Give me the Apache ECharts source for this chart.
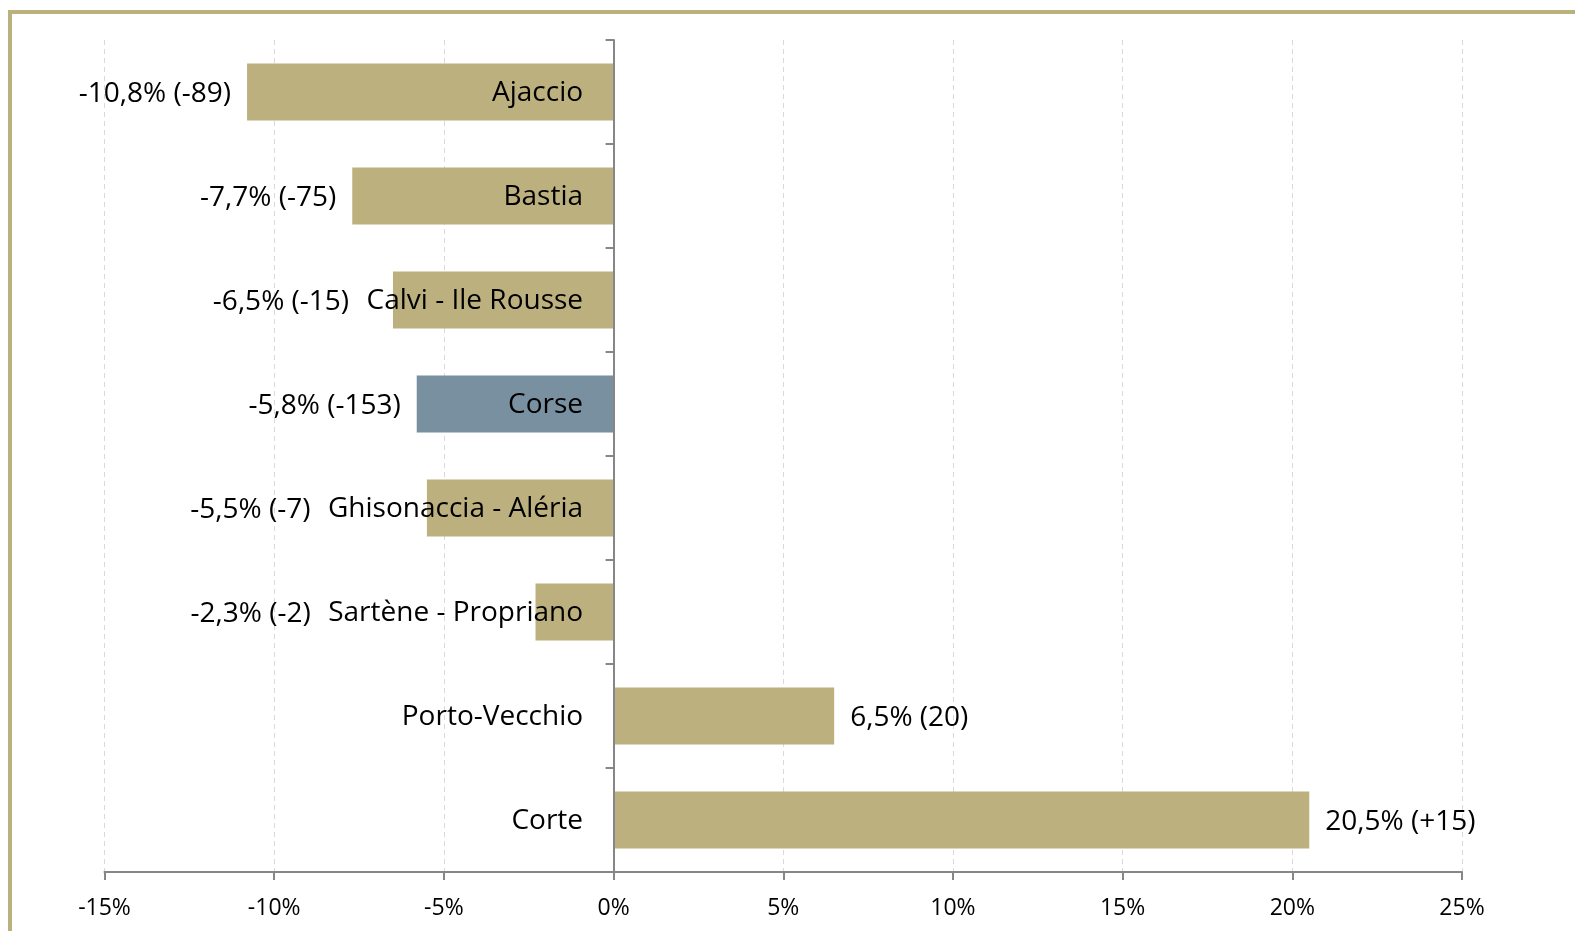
<!DOCTYPE html>
<html>
<head>
<meta charset="utf-8">
<script src="https://cdn.jsdelivr.net/npm/echarts@6/dist/echarts.min.js"></script>
<style>
  html, body { margin: 0; padding: 0; background: #fff; }
  #chart { width: 1575px; height: 931px; }
</style>
</head>
<body>
<div id="chart"></div>
<script>
// zones, top to bottom
const zones = ['Ajaccio', 'Bastia', 'Calvi - Ile Rousse', 'Corse', 'Ghisonaccia - Aléria', 'Sartène - Propriano', 'Porto-Vecchio', 'Corte']
// evolution in %
const evolution = [-10.8, -7.7, -6.5, -5.8, -5.5, -2.3, 6.5, 20.5]
// evolution in number, as written on the chart
const counts = ['-89', '-75', '-15', '-153', '-7', '-2', '20', '+15']
const xTicks = [-15, -10, -5, 0, 5, 10, 15, 20, 25]

const gold = '#BDB07F'
const blue = '#7990A0'
const font = 'Open Sans'
const labelSize = 28
const nameGap = 30   // name text to the 0% line
const valueGap = 16  // value text to bar end

const chart = echarts.init(document.getElementById('chart'))

function buildData(offsets) {
  return evolution.map(function (v, i) {
    return {
      value: v,
      itemStyle: { color: zones[i] === 'Corse' ? blue : gold },
      label: {
        position: v < 0 ? 'left' : 'right',
        offset: [offsets[i], 2],
        formatter: String(v).replace('.', ',') + '% (' + counts[i] + ')'
      }
    }
  })
}

// category names sit just left of the 0% line, over the bars
const nameData = zones.map(function (z) { return [0, z] })

chart.setOption({
  animation: false,
  graphic: [{
    type: 'rect',
    shape: { x: 10, y: 12, width: 1620, height: 1000 },
    style: { fill: 'none', stroke: gold, lineWidth: 4 },
    silent: true
  }],
  grid: { left: 104.5, right: 113, top: 40, bottom: 59, outerBoundsMode: 'none', containLabel: false },
  xAxis: {
    type: 'value',
    min: xTicks[0],
    max: xTicks[xTicks.length - 1],
    interval: 5,
    axisLine: { show: true, lineStyle: { color: '#868686', width: 2 } },
    axisTick: { show: true, length: 8, lineStyle: { color: '#868686', width: 2 } },
    axisLabel: {
      margin: 25,
      color: '#000',
      fontFamily: font,
      fontSize: 23,
      formatter: '{value}%'
    },
    splitLine: { show: true, lineStyle: { color: '#D9D9D9', type: [5, 4], width: 1 } }
  },
  yAxis: {
    type: 'category',
    inverse: true,
    data: zones,
    z: 10,
    axisLine: { show: true, onZero: true, lineStyle: { color: '#868686', width: 2 } },
    axisTick: { show: true, length: 8, lineStyle: { color: '#868686', width: 2 } },
    axisLabel: { show: false }
  },
  series: [{
    type: 'bar',
    data: buildData(evolution.map(function () { return 0 })),
    barCategoryGap: '45%',
    label: {
      show: true,
      distance: valueGap,
      color: '#000',
      fontFamily: font,
      fontSize: labelSize
    }
  }, {
    type: 'scatter',
    data: nameData,
    symbolSize: 1,
    itemStyle: { color: '#fff', opacity: 0 },
    z: 5,
    silent: true,
    label: {
      show: true,
      position: 'left',
      distance: nameGap,
      offset: [0, 1],
      color: '#000',
      opacity: 1,
      textBorderWidth: 0,
      fontFamily: font,
      fontSize: labelSize,
      formatter: function (p) { return p.value[1] }
    }
  }]
})

// push value labels left when they would run into the zone name
const ctx = document.createElement('canvas').getContext('2d')
ctx.font = labelSize + 'px "' + font + '"'
const offsets = evolution.map(function (v, i) {
  if (v >= 0) return 0
  const barEnd = chart.convertToPixel({ gridIndex: 0 }, [v, i])[0]
  const zero = chart.convertToPixel({ gridIndex: 0 }, [0, i])[0]
  const nameLeft = zero - nameGap - ctx.measureText(zones[i]).width
  const right = barEnd - valueGap
  return Math.min(0, nameLeft - 18 - right)
})
chart.setOption({ series: [{ data: buildData(offsets) }] })
</script>
</body>
</html>
